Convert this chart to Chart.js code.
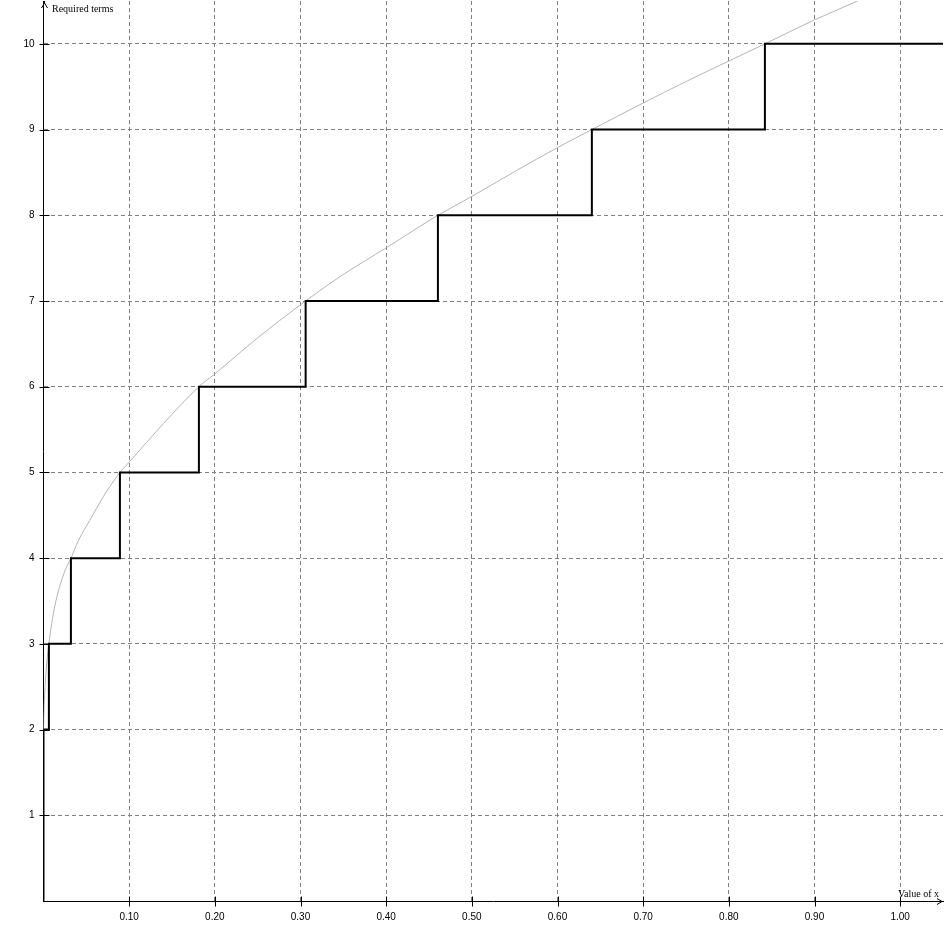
<!DOCTYPE html>
<html><head><meta charset="utf-8">
<script src="https://cdn.jsdelivr.net/npm/chart.js@4.4.1/dist/chart.umd.min.js"></script>
<style>html,body{margin:0;padding:0;background:#fff;overflow:hidden}#wrap{position:relative;width:944px;height:945px}</style>
</head><body><div id="wrap"><canvas id="c" width="944" height="945"></canvas></div>
<script>
// Step function: x where each value begins, and the value
const stepX = [0, 0, 0.0063, 0.032, 0.0892, 0.1814, 0.306, 0.4604, 0.6401, 0.8421, 1.05];
const stepY = [0, 2, 3, 4, 5, 6, 7, 8, 9, 10, 10];
// Gray reference curve
const curveX = [0, 0.0005, 0.0028, 0.0063, 0.013, 0.0238, 0.032, 0.041, 0.054, 0.07, 0.0892, 0.10, 0.14, 0.1814, 0.20, 0.25, 0.306, 0.35, 0.40, 0.4604, 0.50, 0.55, 0.60, 0.6401, 0.70, 0.75, 0.80, 0.8421, 0.90, 0.95, 0.97];
const curveY = [2.0, 2.2, 2.65, 3.0, 3.43, 3.82, 4.0, 4.21, 4.44, 4.72, 5.0, 5.12, 5.57, 6.0, 6.15, 6.57, 7.0, 7.31, 7.62, 8.0, 8.22, 8.51, 8.79, 9.0, 9.31, 9.56, 9.80, 10.0, 10.28, 10.5, 10.6];
const xTicks = [0.1, 0.2, 0.3, 0.4, 0.5, 0.6, 0.7, 0.8, 0.9, 1.0];
const yTicks = [1, 2, 3, 4, 5, 6, 7, 8, 9, 10];
const xTitle = 'Value of x';
const yTitle = 'Required terms';

const stepData = stepX.map((x, i) => ({x, y: stepY[i]}));
const curveData = curveX.map((x, i) => ({x, y: curveY[i]}));

const axisDeco = {
  id: 'axisDeco',
  afterDraw(chart) {
    const ctx = chart.ctx, xs = chart.scales.x, ys = chart.scales.y;
    const ax = Math.round(xs.getPixelForValue(0)) + 0.5;
    const ay = Math.round(ys.getPixelForValue(0)) + 0.5;
    ctx.save();
    ctx.strokeStyle = '#000'; ctx.lineWidth = 1;
    ctx.beginPath();
    xTicks.forEach(v => { const p = Math.round(xs.getPixelForValue(v)) + 0.5; ctx.moveTo(p, ay - 5); ctx.lineTo(p, ay + 5); });
    yTicks.forEach(v => { const p = Math.round(ys.getPixelForValue(v)) + 0.5; ctx.moveTo(ax - 5, p); ctx.lineTo(ax + 5, p); });
    // y axis extension + arrow
    ctx.moveTo(ax, chart.chartArea.top); ctx.lineTo(ax, 3);
    ctx.moveTo(ax - 3, 8); ctx.lineTo(ax, 3); ctx.lineTo(ax + 3, 8);
    // x arrow
    ctx.moveTo(937, ay - 3); ctx.lineTo(942, ay); ctx.lineTo(937, ay + 3);
    ctx.stroke();
    ctx.fillStyle = '#000';
    ctx.font = '10px "Liberation Serif", serif';
    ctx.textBaseline = 'alphabetic';
    ctx.textAlign = 'left';
    ctx.fillText(yTitle, 52, 12);
    ctx.textAlign = 'right';
    ctx.fillText(xTitle, 939, 897);
    ctx.restore();
  }
};

const zeroPad = s => { s.paddingTop = 0; s.paddingBottom = 0; s.paddingLeft = 0; s.paddingRight = 0; };

new Chart(document.getElementById('c'), {
  type: 'scatter',
  data: {
    datasets: [
      { data: curveData, showLine: true, borderColor: '#b4b4b4', borderWidth: 1, pointRadius: 0, cubicInterpolationMode: 'monotone', order: 2 },
      { data: stepData, showLine: true, stepped: 'before', borderColor: '#000', borderWidth: 2, pointRadius: 0, order: 1 }
    ]
  },
  options: {
    responsive: false, animation: false, devicePixelRatio: 1,
    layout: { padding: { top: 1, right: 1, left: 0, bottom: 0 } },
    plugins: { legend: { display: false }, tooltip: { enabled: false } },
    scales: {
      x: {
        type: 'linear', min: 0, max: 1.05,
        afterBuildTicks: s => { s.ticks = xTicks.map(v => ({value: v})); },
        afterFit: s => { s.height = 44; zeroPad(s); },
        ticks: { callback: v => v.toFixed(2), color: '#000', font: { family: '"Liberation Sans", sans-serif', size: 10 }, padding: 10, maxRotation: 0, autoSkip: false },
        grid: { color: '#808080', lineWidth: 1, drawTicks: false },
        border: { display: true, color: '#000', width: 1, dash: [4, 3] }
      },
      y: {
        type: 'linear', min: 0, max: 10.5,
        afterBuildTicks: s => { s.ticks = yTicks.map(v => ({value: v})); },
        afterFit: s => { s.width = 43.5; zeroPad(s); },
        ticks: { callback: v => String(v), color: '#000', font: { family: '"Liberation Sans", sans-serif', size: 10 }, padding: 9, autoSkip: false },
        grid: { color: '#808080', lineWidth: 1, drawTicks: false },
        border: { display: true, color: '#000', width: 1, dash: [4, 3] }
      }
    }
  },
  plugins: [axisDeco]
});
</script></body></html>
